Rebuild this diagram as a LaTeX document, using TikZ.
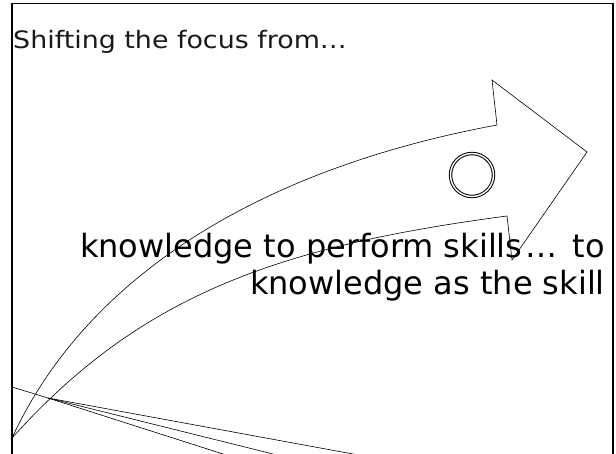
\documentclass[tikz,border=0pt]{standalone}
\usepackage{fontspec}
\setmainfont{DejaVu Sans}
\newfontfamily\titlefamily[FakeStretch=1.12]{DejaVu Sans}
\begin{document}
\begin{tikzpicture}[x=1pt,y=-1pt,
  shape line/.style={draw=black,line width=0.6pt,line join=miter},
  frame line/.style={draw=black,line width=1.6pt},
  titletext/.style={inner sep=0pt,font=\titlefamily\fontsize{24}{28}\selectfont,text=black!90},
  bodytext/.style={inner sep=0pt,font=\fontsize{32}{37}\selectfont,text=black}]
\useasboundingbox (0,0) rectangle (616,454);
\begin{scope}
\clip (0,0) rectangle (616,454);
% frame
\draw[frame line] (12,470) -- (12,3.5) -- (613,3.5) -- (613,470);
% coordinates of the curved arrow
\coordinate (p0) at (12,438);
\coordinate (un) at (497,125);
\coordinate (ht) at (492,80);
\coordinate (tip) at (587,152);
\coordinate (hb) at (512,260);
\coordinate (ln) at (507,216);
\draw[shape line] (p0) .. controls (85,280) and (254,170) .. (un)
  -- (ht) -- (tip) -- (hb) -- (ln)
  .. controls (272,247) and (138,298) .. (p0);
% circle
\node[circle,draw,double,double distance=1.4pt,line width=1pt,minimum size=43pt,inner sep=0pt] (ring) at (472,175) {};
% lines at bottom left
\coordinate (lstart) at (12,387);
\coordinate (fan) at (48,398);
\coordinate (fa) at (48+175*1.3,398+56*1.3);
\coordinate (fb) at (48+225*1.3,398+56*1.3);
\coordinate (fc) at (48+305*1.3,398+56*1.3);
\draw[shape line] (lstart) -- (fan);
\draw[shape line] (fan) -- (fa);
\draw[shape line] (fan) -- (fb);
\draw[shape line] (fan) -- (fc);
\end{scope}
% texts
\node[titletext,anchor=base west] (title) at (13,49) {Shifting the focus from…};
\node[bodytext,anchor=base east] (line1) at (605,258) {knowledge to perform skills\kern3pt…\kern5pt{} to};
\node[bodytext,anchor=base east] (line2) at (605,295) {knowledge as the skill};
\end{tikzpicture}
\end{document}
